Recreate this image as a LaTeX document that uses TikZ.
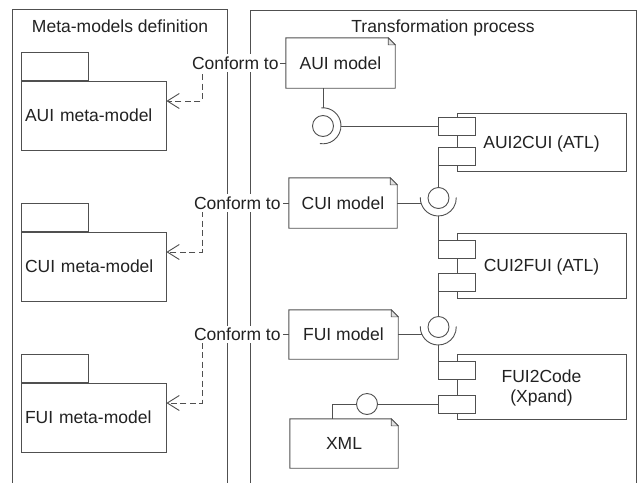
\documentclass[tikz,border=0pt]{standalone}
\usepackage{fontspec}
\setmainfont{Liberation Sans}
\usetikzlibrary{arrows.meta}
\definecolor{ln}{HTML}{505050}
\definecolor{tx}{HTML}{222222}
\newcommand\notefold[1]{%
  \draw[ln, line width=0.9pt, fill=white] (#1.north west) -- ([xshift=-7pt]#1.north east) -- ([yshift=-7pt]#1.north east) -- (#1.south east) -- (#1.south west) -- cycle;
  \draw[ln, line width=0.6pt, fill=black!12] ([xshift=-7pt]#1.north east) -- ([xshift=-7pt,yshift=-7pt]#1.north east) -- ([yshift=-7pt]#1.north east) -- cycle;}
\begin{document}
\begin{tikzpicture}[x=1pt,y=1pt,
  every node/.style={font=\fontsize{17.5}{20.3}\selectfont, text=tx},
  line/.style={draw=ln, line width=0.9pt},
  pkgbody/.style={line, fill=white, text width=137pt, align=left, inner xsep=4pt, inner ysep=0pt, minimum height=69pt, text depth=0pt},
  pkgtab/.style={line, fill=white, minimum width=67pt, minimum height=28pt, inner sep=0pt},
  notebox/.style={minimum height=50pt, inner sep=0pt, text depth=0pt},
  comp/.style={line, fill=white, minimum width=169pt, inner sep=0pt, align=center, text depth=0pt},
  port/.style={line, fill=white, minimum width=37pt, minimum height=18pt, inner sep=0pt},
  ball/.style={line, circle, minimum size=21pt, inner sep=0pt, fill=white},
  sock/.style={circle, minimum size=36pt, inner sep=0pt},
  lbl/.style={fill=white, inner xsep=1pt, inner ysep=2.5pt, text depth=0pt},
  title/.style={anchor=base},
  conform/.style={draw=ln, line width=0.9pt, dash pattern=on 6pt off 3.5pt, -{Straight Barb[length=12pt,width=15pt]}}
]
\useasboundingbox (0,0) rectangle (639,-482);
\clip (0,0) rectangle (639,-482);
\fill[white] (0,0) rectangle (639,-482);

% frames
\draw[line] (12,-495) -- (12,-9.5) -- (227,-9.5) -- (227,-495);
\draw[line] (250,-495) -- (250,-10) -- (636,-10) -- (636,-495);
\node[title] (t1) at (120,-32) {Meta-models definition};
\node[title] (t2) at (443,-32) {Transformation process};

% meta-model packages
\node[pkgbody] (amm) at (93.5,-115.5) {AUI meta-model};
\node[pkgtab, anchor=south west] (amt) at (amm.north west) {};
\node[pkgbody] (cmm) at (93.5,-266.5) {CUI meta-model};
\node[pkgtab, anchor=south west] (cmt) at (cmm.north west) {};
\node[pkgbody] (fmm) at (93.5,-417.5) {FUI meta-model};
\node[pkgtab, anchor=south west] (fmt) at (fmm.north west) {};

% models (notes)
\node[notebox, minimum width=109pt] (aui) at (340.5,-63) {};
\notefold{aui}
\node[notebox, minimum width=109pt] at (aui) {AUI model};
\node[notebox, minimum width=108pt] (cui) at (343,-203) {};
\notefold{cui}
\node[notebox, minimum width=108pt] at (cui) {CUI model};
\node[notebox, minimum width=109pt, minimum height=49pt] (fui) at (343.5,-334.5) {};
\notefold{fui}
\node[notebox, minimum width=109pt, minimum height=49pt] at (fui) {FUI model};
\node[notebox, minimum width=108pt, minimum height=49pt] (xml) at (344,-443.5) {};
\notefold{xml}
\node[notebox, minimum width=108pt, minimum height=49pt] at (xml) {XML};

% components
\node[comp, minimum height=58pt] (c1) at (541.5,-142) {AUI2CUI (ATL)};
\node[port] (c1p1) at (456.5,-126) {};
\node[port] (c1p2) at (456.5,-156) {};
\node[comp, minimum height=65pt] (c2) at (541.5,-265.5) {CUI2FUI (ATL)};
\node[port] (c2p1) at (456.5,-249.5) {};
\node[port] (c2p2) at (456.5,-282.5) {};
\node[comp, minimum height=65pt] (c3) at (541.5,-386.5) {FUI2Code\\(Xpand)};
\node[port] (c3p1) at (456.5,-370.5) {};
\node[port] (c3p2) at (456.5,-404) {};

% interfaces
\node[ball] (b1) at (323,-126) {};
\node[sock] (s1) at (323,-126) {};
\draw[line] (s1.95) arc[start angle=95, end angle=-100, radius=18pt];
\draw[line] (aui.south -| s1.north) -- (s1.north);
\draw[line] (s1.east) -- (s1.east -| c1p1.west);

\node[ball] (b2) at (438.5,-198) {};
\node[sock] (s2) at (438.5,-198) {};
\draw[line] (s2.178) arc[start angle=178, end angle=362, radius=18pt];
\draw[line] (b2.north |- c1p2.south) -- (b2.north);
\draw[line] (cui.east) -- (cui.east -| s2.196);
\draw[line] (s2.south) -- (s2.south |- c2p1.north);

\node[ball] (b3) at (438.5,-327) {};
\node[sock] (s3) at (438.5,-327) {};
\draw[line] (s3.178) arc[start angle=178, end angle=362, radius=18pt];
\draw[line] (b3.north |- c2p2.south) -- (b3.north);
\draw[line] (fui.east) -- (fui.east -| s3.203);
\draw[line] (s3.south) -- (s3.south |- c3p1.north);

\node[ball] (b4) at (367,-404) {};
\draw[line] (c3p2.west) -- (b4.east);
\draw[line] (b4.west) -| ([xshift=-12pt]xml.north);

% conform-to dependencies
\coordinate (k1) at (202,-101);
\coordinate (k2) at (202,-252);
\coordinate (k3) at (202,-403);
\draw[conform] (aui.west) -| (k1) -- (k1 -| amm.east);
\draw[conform] (cui.west) -| (k2) -- (k2 -| cmm.east);
\draw[conform] (fui.west) -| (k3) -- (k3 -| fmm.east);
\node[lbl, anchor=east] (l1) at ([xshift=-6pt]aui.west) {Conform to};
\node[lbl, anchor=east] (l2) at ([xshift=-7pt]cui.west) {Conform to};
\node[lbl, anchor=east] (l3) at ([xshift=-7pt]fui.west) {Conform to};
\end{tikzpicture}
\end{document}
